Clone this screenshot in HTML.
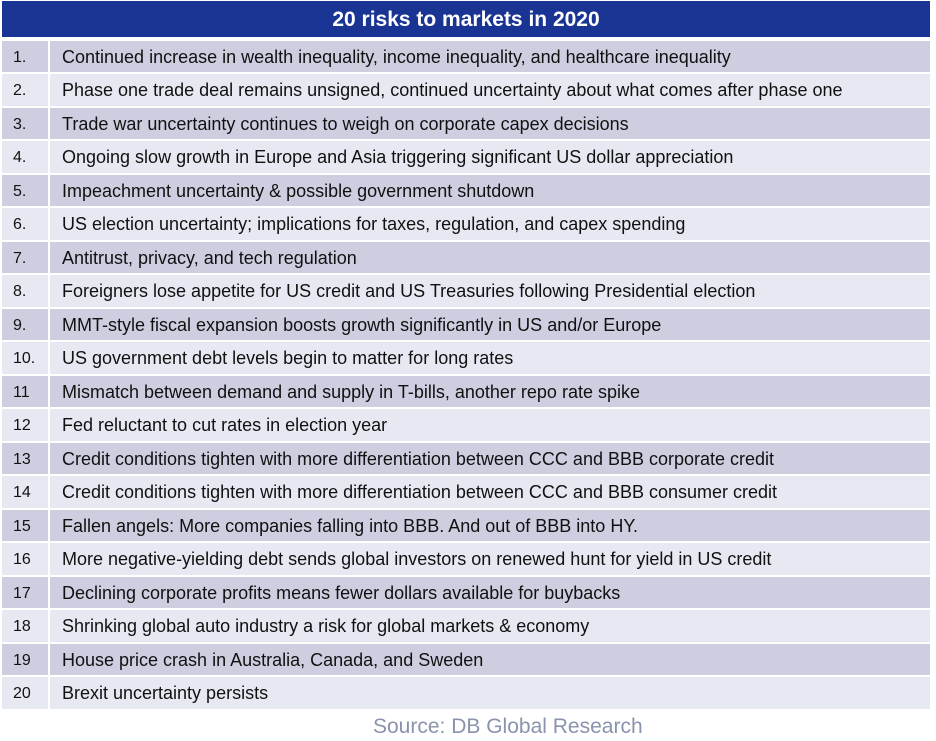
<!DOCTYPE html>
<html><head><style>
body{margin:0;width:936px;height:741px;background:#fff;font-family:"Liberation Sans",Arial,sans-serif;position:relative;overflow:hidden}
.h{position:absolute;left:2px;top:1px;width:928px;height:36px;background:#1a3494;color:#fff;font-weight:bold;font-size:21px;text-align:center;line-height:38px}
.r{position:absolute;left:2px;width:928px;height:31.5px;color:#111;font-size:18px;line-height:32px}
.r.o{background:#cdcfe0}.r.e{background:#e6e9f2}
.n{position:absolute;left:0;top:0;width:48px;height:100%;border-right:2px solid #fff;box-sizing:border-box;padding-left:11px;font-size:16px;line-height:34px}
.t{position:absolute;left:60px;top:0;white-space:nowrap}
.s{position:absolute;left:373px;top:715px;font-size:21px;color:#8a93ad}
</style></head><body>
<div class="h">20 risks to markets in 2020</div>
<div class="r o" style="top:40.5px"><div class="n">1.</div><div class="t">Continued increase in wealth inequality, income inequality, and healthcare inequality</div></div>
<div class="r e" style="top:74px"><div class="n">2.</div><div class="t">Phase one trade deal remains unsigned, continued uncertainty about what comes after phase one</div></div>
<div class="r o" style="top:107.5px"><div class="n">3.</div><div class="t">Trade war uncertainty continues to weigh on corporate capex decisions</div></div>
<div class="r e" style="top:141px"><div class="n">4.</div><div class="t">Ongoing slow growth in Europe and Asia triggering significant US dollar appreciation</div></div>
<div class="r o" style="top:174.5px"><div class="n">5.</div><div class="t">Impeachment uncertainty &amp; possible government shutdown</div></div>
<div class="r e" style="top:208px"><div class="n">6.</div><div class="t">US election uncertainty; implications for taxes, regulation, and capex spending</div></div>
<div class="r o" style="top:241.5px"><div class="n">7.</div><div class="t">Antitrust, privacy, and tech regulation</div></div>
<div class="r e" style="top:275px"><div class="n">8.</div><div class="t">Foreigners lose appetite for US credit and US Treasuries following Presidential election</div></div>
<div class="r o" style="top:308.5px"><div class="n">9.</div><div class="t">MMT-style fiscal expansion boosts growth significantly in US and/or Europe</div></div>
<div class="r e" style="top:342px"><div class="n">10.</div><div class="t">US government debt levels begin to matter for long rates</div></div>
<div class="r o" style="top:375.5px"><div class="n">11</div><div class="t">Mismatch between demand and supply in T-bills, another repo rate spike</div></div>
<div class="r e" style="top:409px"><div class="n">12</div><div class="t">Fed reluctant to cut rates in election year</div></div>
<div class="r o" style="top:442.5px"><div class="n">13</div><div class="t">Credit conditions tighten with more differentiation between CCC and BBB corporate credit</div></div>
<div class="r e" style="top:476px"><div class="n">14</div><div class="t">Credit conditions tighten with more differentiation between CCC and BBB consumer credit</div></div>
<div class="r o" style="top:509.5px"><div class="n">15</div><div class="t">Fallen angels: More companies falling into BBB. And out of BBB into HY.</div></div>
<div class="r e" style="top:543px"><div class="n">16</div><div class="t">More negative-yielding debt sends global investors on renewed hunt for yield in US credit</div></div>
<div class="r o" style="top:576.5px"><div class="n">17</div><div class="t">Declining corporate profits means fewer dollars available for buybacks</div></div>
<div class="r e" style="top:610px"><div class="n">18</div><div class="t">Shrinking global auto industry a risk for global markets &amp; economy</div></div>
<div class="r o" style="top:643.5px"><div class="n">19</div><div class="t">House price crash in Australia, Canada, and Sweden</div></div>
<div class="r e" style="top:677px"><div class="n">20</div><div class="t">Brexit uncertainty persists</div></div>
<div class="s">Source: DB Global Research</div>
</body></html>
